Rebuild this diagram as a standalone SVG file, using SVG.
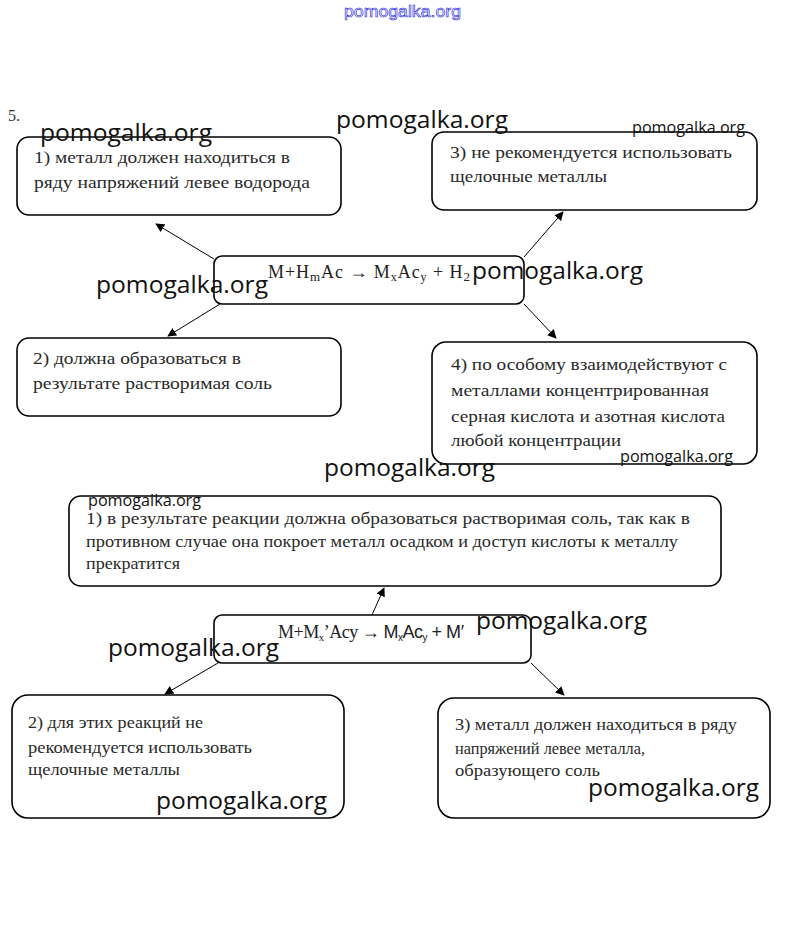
<svg xmlns="http://www.w3.org/2000/svg" width="802" height="927" viewBox="0 0 802 927">
<defs>
<marker id="ah" viewBox="0 0 10 10" refX="9" refY="5" markerWidth="9" markerHeight="9" markerUnits="userSpaceOnUse" orient="auto">
<path d="M0,0 L10,5 L0,10 z" fill="#000"/>
</marker>
<style>
.box{fill:#fff;stroke:#000;stroke-width:1.6}
.t{font-family:"Liberation Serif","Times New Roman",serif;font-size:17px;fill:#2a2a2a}
.ts{font-family:"Liberation Serif","Times New Roman",serif;font-size:16px;fill:#2a2a2a}
.f{font-family:"Liberation Serif","Times New Roman",serif;font-size:18px;fill:#222}
.fs{font-family:"Liberation Sans",Arial,sans-serif;fill:#222}
.wm{font-family:"Open Sans","Noto Sans",sans-serif;font-size:24px;fill:#111}
.wms{font-family:"Open Sans","Noto Sans",sans-serif;font-size:16px;fill:#111}
.c{stroke:#000;stroke-width:1;fill:none;marker-end:url(#ah)}
</style>
</defs>
<rect width="802" height="927" fill="#fff"/>
<text x="344" y="17" style="font-family:'Liberation Sans',Arial,sans-serif;font-size:16px;fill:#fff;stroke:#2525e0;stroke-width:0.6" textLength="117" lengthAdjust="spacingAndGlyphs">pomogalka.org</text>
<text x="8" y="121" style="font-family:'Liberation Serif',serif;font-size:16px;fill:#333">5.</text>

<g id="connectors">
<line class="c" x1="214" y1="259" x2="156" y2="224"/>
<line class="c" x1="220" y1="304" x2="168" y2="336"/>
<line class="c" x1="524" y1="257" x2="563" y2="212"/>
<line class="c" x1="524" y1="304" x2="556" y2="338"/>
<line class="c" x1="372" y1="615" x2="384" y2="588"/>
<line class="c" x1="218" y1="663" x2="165" y2="694"/>
<line class="c" x1="531" y1="663" x2="564" y2="695"/>
</g>

<g id="n1">
<rect class="box" x="17" y="137" width="324" height="78" rx="12"/>
<text class="t" x="34" y="163" textLength="256" lengthAdjust="spacingAndGlyphs">1) металл должен находиться в</text>
<text class="t" x="34" y="188" textLength="276" lengthAdjust="spacingAndGlyphs">ряду напряжений левее водорода</text>
</g>
<g id="n3">
<rect class="box" x="432" y="132" width="325" height="78" rx="12"/>
<text class="t" x="450" y="158" textLength="282" lengthAdjust="spacingAndGlyphs">3) не рекомендуется использовать</text>
<text class="t" x="450" y="182" textLength="157" lengthAdjust="spacingAndGlyphs">щелочные металлы</text>
</g>
<g id="center1">
<rect class="box" x="214" y="256" width="310" height="48" rx="8"/>
<text class="f" x="268" y="278" textLength="202">M+H<tspan font-size="13" dy="3">m</tspan><tspan dy="-3">Ac → M</tspan><tspan font-size="12" dy="3">x</tspan><tspan dy="-3">Ac</tspan><tspan font-size="12" dy="3">y</tspan><tspan dy="-3"> + H</tspan><tspan font-size="13" dy="3">2</tspan></text>
</g>
<g id="n2">
<rect class="box" x="17" y="338" width="324" height="78" rx="12"/>
<text class="t" x="33" y="364" textLength="208" lengthAdjust="spacingAndGlyphs">2) должна образоваться в</text>
<text class="t" x="33" y="389" textLength="239" lengthAdjust="spacingAndGlyphs">результате растворимая соль</text>
</g>
<g id="n4">
<rect class="box" x="432" y="342" width="325" height="122" rx="14"/>
<text class="t" x="451" y="370" textLength="276" lengthAdjust="spacingAndGlyphs">4) по особому взаимодействуют с</text>
<text class="t" x="451" y="396" textLength="258" lengthAdjust="spacingAndGlyphs">металлами концентрированная</text>
<text class="t" x="451" y="422" textLength="274" lengthAdjust="spacingAndGlyphs">серная кислота и азотная кислота</text>
<text class="t" x="451" y="446" textLength="170" lengthAdjust="spacingAndGlyphs">любой концентрации</text>
</g>

<g id="b1">
<rect class="box" x="69" y="496" width="652" height="90" rx="12"/>
<text class="ts" x="86" y="524" textLength="604" lengthAdjust="spacingAndGlyphs">1) в результате реакции должна образоваться растворимая соль, так как в</text>
<text class="ts" x="86" y="547" textLength="592" lengthAdjust="spacingAndGlyphs">противном случае она покроет металл осадком и доступ кислоты к металлу</text>
<text class="ts" x="86" y="569" textLength="94" lengthAdjust="spacingAndGlyphs">прекратится</text>
</g>
<g id="center2">
<rect class="box" x="214" y="615" width="317" height="48" rx="8"/>
<text class="f" x="278" y="638" font-size="15" textLength="186">M+M<tspan font-size="11" dy="3">x</tspan><tspan dy="-3">’Acy → </tspan><tspan class="fs">M</tspan><tspan class="fs" font-size="10" dy="3">x</tspan><tspan class="fs" dy="-3">Ac</tspan><tspan class="fs" font-size="10" dy="3">y</tspan><tspan class="fs" dy="-3"> + M′</tspan></text>
</g>
<g id="b2">
<rect class="box" x="12" y="695" width="332" height="123" rx="16"/>
<text class="ts" x="28" y="728" textLength="175" lengthAdjust="spacingAndGlyphs">2) для этих реакций не</text>
<text class="ts" x="28" y="753" textLength="224" lengthAdjust="spacingAndGlyphs">рекомендуется использовать</text>
<text class="ts" x="28" y="775" textLength="152" lengthAdjust="spacingAndGlyphs">щелочные металлы</text>
</g>
<g id="b3">
<rect class="box" x="438" y="698" width="332" height="120" rx="16"/>
<text class="ts" x="455" y="730" textLength="282" lengthAdjust="spacingAndGlyphs">3) металл должен находиться в ряду</text>
<text class="ts" x="455" y="754" textLength="190" lengthAdjust="spacingAndGlyphs">напряжений левее металла,</text>
<text class="ts" x="455" y="776" textLength="145" lengthAdjust="spacingAndGlyphs">образующего соль</text>
</g>

<g id="watermarks">
<text class="wm" x="40" y="141" textLength="172" lengthAdjust="spacingAndGlyphs">pomogalka.org</text>
<text class="wm" x="336" y="128" textLength="172" lengthAdjust="spacingAndGlyphs">pomogalka.org</text>
<text class="wms" x="632" y="133" textLength="113" lengthAdjust="spacingAndGlyphs">pomogalka.org</text>
<text class="wm" x="96" y="293" textLength="172" lengthAdjust="spacingAndGlyphs">pomogalka.org</text>
<text class="wm" x="472" y="279" textLength="171" lengthAdjust="spacingAndGlyphs">pomogalka.org</text>
<text class="wm" x="324" y="476" textLength="171" lengthAdjust="spacingAndGlyphs">pomogalka.org</text>
<text class="wms" x="620" y="462" textLength="113" lengthAdjust="spacingAndGlyphs">pomogalka.org</text>
<text class="wms" x="88" y="506" textLength="113" lengthAdjust="spacingAndGlyphs">pomogalka.org</text>
<text class="wm" x="476" y="629" textLength="171" lengthAdjust="spacingAndGlyphs">pomogalka.org</text>
<text class="wm" x="108" y="656" textLength="171" lengthAdjust="spacingAndGlyphs">pomogalka.org</text>
<text class="wm" x="156" y="809" textLength="171" lengthAdjust="spacingAndGlyphs">pomogalka.org</text>
<text class="wm" x="588" y="796" textLength="171" lengthAdjust="spacingAndGlyphs">pomogalka.org</text>
</g>
</svg>
